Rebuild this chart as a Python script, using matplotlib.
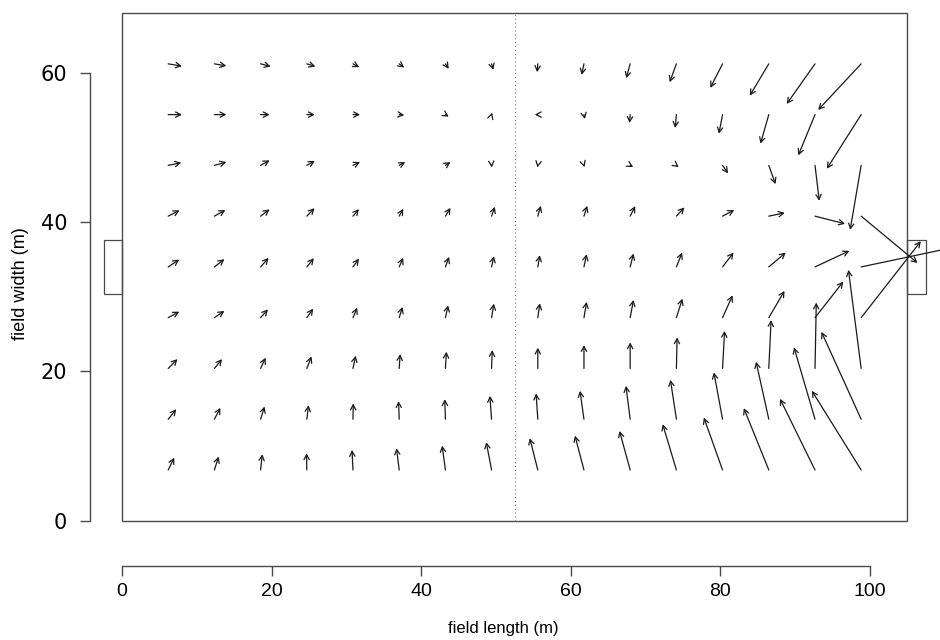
import matplotlib
matplotlib.use("Agg")
import matplotlib.pyplot as plt
from matplotlib.patches import Rectangle
import numpy as np

# grid of arrow origins (m)
grid_x = [6.18, 12.35, 18.53, 24.71, 30.88, 37.06, 43.24, 49.41,
          55.59, 61.76, 67.94, 74.12, 80.29, 86.47, 92.65, 98.82]
grid_y = [61.2, 54.4, 47.6, 40.8, 34.0, 27.2, 20.4, 13.6, 6.8]  # top row first

# arrow x-components (m), rows from top to bottom
dx = [
    [1.83, 1.60, 1.34, 1.14, 0.84, 0.67, 0.44, 0.23, -0.09, -0.31, -0.53, -0.90, -1.64, -2.54, -3.78, -5.75],
    [1.83, 1.60, 1.20, 1.07, 0.94, 0.67, 0.44, 0.08, -0.40, 0.13, -0.09, -0.17, -0.49, -1.11, -2.23, -4.59],
    [1.74, 1.60, 1.20, 1.07, 0.94, 0.80, 0.67, 0.02, -0.05, 0.07, 0.40, 0.31, 0.74, 0.90, 0.57, -1.47],
    [1.51, 1.47, 1.20, 1.03, 0.80, 0.53, 0.67, 0.44, 0.40, 0.44, 0.67, 1.07, 1.56, 2.14, 4.01, 7.54],
    [1.47, 1.34, 1.07, 0.94, 0.80, 0.53, 0.49, 0.31, 0.27, 0.36, 0.44, 0.76, 1.47, 2.27, 4.59, 12.0],
    [1.47, 1.34, 0.98, 0.84, 0.57, 0.44, 0.36, 0.31, 0.27, 0.36, 0.44, 0.80, 1.34, 2.10, 3.78, 7.98],
    [1.24, 1.03, 0.67, 0.63, 0.36, 0.13, 0.13, 0.09, 0.00, 0.00, 0.00, 0.09, 0.27, 0.31, 0.17, -1.70],
    [1.07, 0.80, 0.53, 0.23, 0.04, -0.09, -0.09, -0.23, -0.23, -0.53, -0.57, -0.80, -1.16, -1.70, -2.81, -5.31],
    [0.80, 0.57, 0.23, -0.04, -0.13, -0.36, -0.44, -0.71, -1.07, -1.20, -1.43, -1.83, -2.50, -3.34, -4.68, -6.59],
]
# arrow y-components (m), rows from top to bottom
dy = [
    [-0.31, -0.27, -0.34, -0.34, -0.44, -0.50, -0.67, -0.81, -1.11, -1.48, -1.92, -2.46, -3.22, -4.26, -5.37, -6.17],
    [0.00, 0.00, 0.00, 0.00, 0.00, -0.07, -0.27, 0.25, 0.00, -0.58, -1.11, -1.79, -2.55, -3.89, -5.46, -7.25],
    [0.36, 0.44, 0.67, 0.60, 0.44, 0.44, 0.44, -0.27, -0.27, -0.23, -0.23, -0.23, -1.07, -2.51, -4.74, -8.63],
    [0.77, 0.81, 0.90, 1.07, 0.94, 0.98, 1.11, 1.25, 1.38, 1.38, 1.34, 1.17, 0.81, 0.44, -1.03, -6.27],
    [0.98, 1.03, 1.21, 1.17, 1.11, 1.21, 1.34, 1.44, 1.57, 1.70, 1.79, 1.92, 1.92, 1.92, 2.15, 2.54],
    [0.81, 0.90, 1.11, 1.21, 1.34, 1.44, 1.65, 1.88, 1.92, 2.11, 2.38, 2.55, 2.99, 3.58, 4.83, 10.24],
    [1.25, 1.25, 1.44, 1.61, 1.70, 1.92, 2.24, 2.46, 2.78, 3.13, 3.49, 4.16, 5.03, 6.48, 8.82, 13.2],
    [1.34, 1.52, 1.70, 1.88, 2.11, 2.42, 2.68, 3.13, 3.45, 3.80, 4.47, 5.28, 6.27, 7.69, 9.62, 11.7],
    [1.65, 1.79, 2.11, 2.24, 2.68, 2.91, 3.26, 3.72, 4.26, 4.60, 5.23, 6.13, 7.02, 8.28, 9.53, 10.6],
]

field_length = 105.0
field_width = 68.0
goal_width = 7.32
goal_depth = 2.44

x_ticks = [0, 20, 40, 60, 80, 100]
y_ticks = [0, 20, 40, 60]

fig = plt.figure(figsize=(9.4, 6.4), dpi=100)
ax = fig.add_axes([0, 0, 1, 1])
ax.set_xlim(-16.31, 109.36)
ax.set_ylim(-15.97, 69.75)
ax.patch.set_visible(False)

line_col = "#4a4a4a"
# pitch
ax.add_patch(Rectangle((0, 0), field_length, field_width, fill=False, ec=line_col, lw=1.0))
gy = field_width / 2 - goal_width / 2
ax.add_patch(Rectangle((-goal_depth, gy), goal_depth, goal_width, fill=False, ec=line_col, lw=0.9))
ax.add_patch(Rectangle((field_length, gy), goal_depth, goal_width, fill=False, ec=line_col, lw=0.9))
ax.plot([field_length / 2, field_length / 2], [0, field_width], color="#777777",
        lw=0.8, linestyle=(0, (1, 2.5)))

# arrows
for r, y0 in enumerate(grid_y):
    for c, x0 in enumerate(grid_x):
        ax.annotate("", xy=(x0 + dx[r][c], y0 + dy[r][c]), xytext=(x0, y0),
                    annotation_clip=False,
                    arrowprops=dict(arrowstyle="->,head_length=0.36,head_width=0.19",
                                    color="#1a1a1a", lw=0.9, shrinkA=0, shrinkB=0,
                                    mutation_scale=10))

# R-style detached axes
for s in ["top", "right"]:
    ax.spines[s].set_visible(False)
ax.spines["left"].set_position(("data", -4.28))
ax.spines["left"].set_bounds(0, 60)
ax.spines["bottom"].set_position(("data", -6.04))
ax.spines["bottom"].set_bounds(0, 100)
for s in ["left", "bottom"]:
    ax.spines[s].set_color(line_col)
    ax.spines[s].set_linewidth(1.0)
ax.set_xticks(x_ticks)
ax.set_yticks(y_ticks)
ax.tick_params(axis="both", direction="out", length=7.5, width=1.0, color=line_col)
ax.tick_params(axis="x", pad=5)
ax.tick_params(axis="y", pad=9)
for lab in ax.get_xticklabels():
    lab.set_family(["Liberation Sans", "DejaVu Sans"])
    lab.set_fontsize(14)
for lab in ax.get_yticklabels():
    lab.set_family(["DejaVu Sans"])
    lab.set_fontsize(15)

ax.text(503 / 940, (640 - 628) / 640, "field length (m)", transform=ax.transAxes,
        ha="center", va="center", fontsize=12, family=["Liberation Sans", "DejaVu Sans"])
ax.text(21 / 940, (640 - 284) / 640, "field width (m)", transform=ax.transAxes,
        ha="center", va="center", rotation=90, fontsize=13,
        family=["Liberation Sans", "DejaVu Sans"])

fig.savefig("out.png", dpi=100)
